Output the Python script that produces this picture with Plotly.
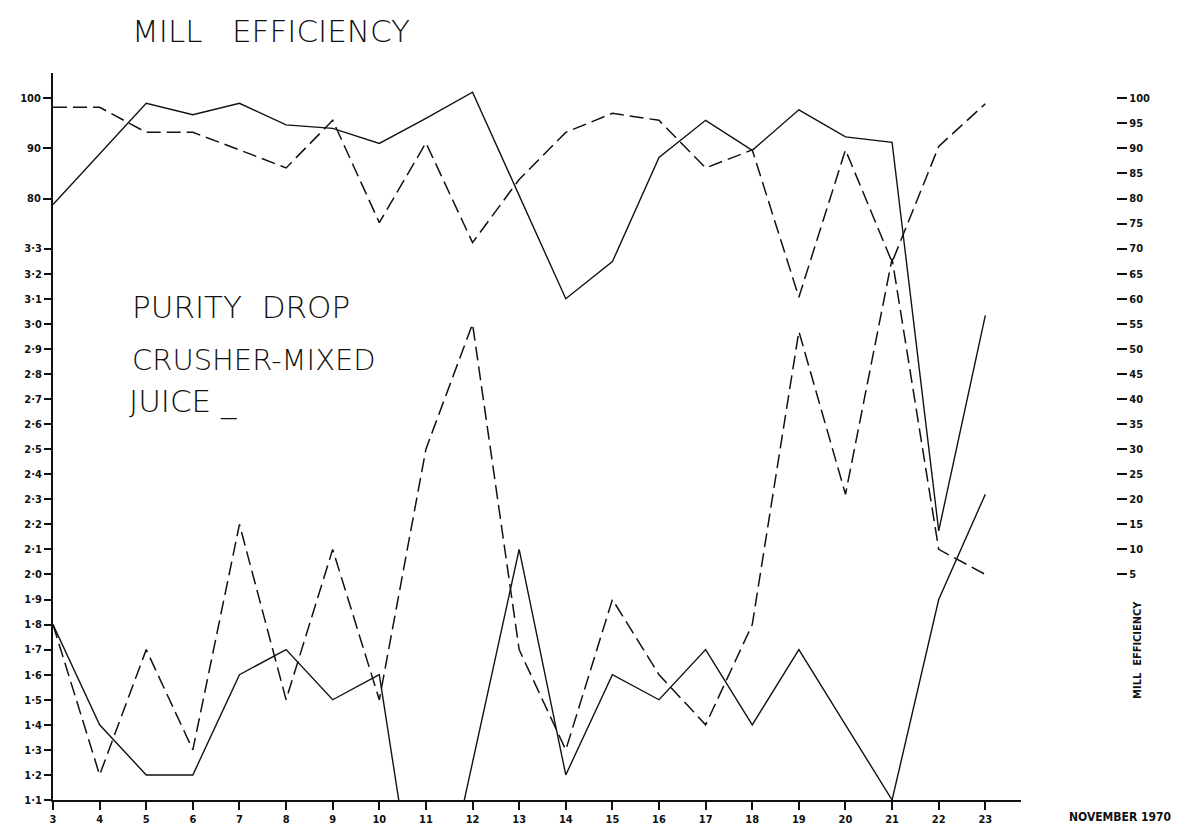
import plotly.graph_objects as go

# ---------------- data ----------------
days = [3, 4, 5, 6, 7, 8, 9, 10, 11, 12, 13, 14, 15, 16, 17, 18, 19, 20, 21, 22, 23]

# mill efficiency (upper scale, %)
mill_eff_solid = [78.8, 89.0, 99.0, 96.7, 99.0, 94.7, 94.0, 91.0, 96.0, 101.2, 80.5,
                  60.0, 67.4, 88.2, 95.6, 89.6, 97.7, 92.3, 91.2, 13.7, 56.7]
mill_eff_dashed = [98.2, 98.2, 93.2, 93.2, 89.7, 86.1, 95.6, 75.2, 91.1, 71.2, 83.8,
                   93.2, 97.0, 95.6, 86.1, 89.7, 60.3, 89.7, 67.3, 90.4, 98.9]

# purity drop crusher - mixed juice (lower scale)
purity_solid = [1.8, 1.4, 1.2, 1.2, 1.6, 1.7, 1.5, 1.6, 0.4, 1.25, 2.1,
                1.2, 1.6, 1.5, 1.7, 1.4, 1.7, 1.4, 1.1, 1.9, 2.32]
purity_dashed = [1.8, 1.2, 1.7, 1.3, 2.2, 1.5, 2.1, 1.5, 2.5, 3.0, 1.7,
                 1.3, 1.9, 1.6, 1.4, 1.8, 2.97, 2.32, 3.26, 2.1, 2.0]

x_tick_labels = ["3", "4", "5", "6", "7", "8", "9", "10", "11", "12", "13", "14",
                 "15", "16", "17", "18", "19", "20", "21", "22", "23"]
left_eff_ticks = [80, 90, 100]
left_eff_labels = ["80", "90", "100"]
left_purity_ticks = [1.1, 1.2, 1.3, 1.4, 1.5, 1.6, 1.7, 1.8, 1.9, 2.0, 2.1, 2.2,
                     2.3, 2.4, 2.5, 2.6, 2.7, 2.8, 2.9, 3.0, 3.1, 3.2, 3.3]
left_purity_labels = ["1\u00b71", "1\u00b72", "1\u00b73", "1\u00b74", "1\u00b75", "1\u00b76",
                      "1\u00b77", "1\u00b78", "1\u00b79", "2\u00b70", "2\u00b71", "2\u00b72",
                      "2\u00b73", "2\u00b74", "2\u00b75", "2\u00b76", "2\u00b77", "2\u00b78",
                      "2\u00b79", "3\u00b70", "3\u00b71", "3\u00b72", "3\u00b73"]
right_eff_ticks = [5, 10, 15, 20, 25, 30, 35, 40, 45, 50, 55, 60, 65, 70, 75, 80, 85, 90, 95, 100]
right_eff_labels = ["5", "10", "15", "20", "25", "30", "35", "40", "45", "50", "55",
                    "60", "65", "70", "75", "80", "85", "90", "95", "100"]

# ---------------- geometry ----------------
W, H = 1180, 830
ML, MR, MT, MB = 43, 20, 65, 34
PW, PH = W - ML - MR, H - MT - MB
X_END_PX = 1013           # right end of x-axis line
PX_PER_DAY = 46.7
PX_PER_EFF = 5.04         # px per efficiency unit
PX_PER_PUR = 252.0        # px per purity unit
RIGHT_AXIS_PX = 1108

x_range = [3, 3 + (X_END_PX - ML) / PX_PER_DAY]
eff_range = [-40, -40 + PH / PX_PER_EFF]
pur_range = [1.1, 1.1 + PH / PX_PER_PUR]


def xp(px):
    return (px - ML) / PW


def yp(py):
    return (H - MB - py) / PH


INK = "#111111"
TICKFONT = dict(family="DejaVu Sans Condensed, DejaVu Sans", size=11, color=INK, weight="bold")
BIG = dict(family="DejaVu Sans", size=31, color=INK, weight=300)
MID = dict(family="DejaVu Sans", size=29, color=INK, weight=300)

fig = go.Figure()

line_solid = dict(color=INK, width=1.4)
line_dash = dict(color=INK, width=1.5, dash="14px,6px")

fig.add_trace(go.Scatter(x=days, y=mill_eff_solid, mode="lines", line=line_solid,
                         yaxis="y", showlegend=False, name="Mill efficiency (solid)"))
fig.add_trace(go.Scatter(x=days, y=mill_eff_dashed, mode="lines", line=line_dash,
                         yaxis="y", showlegend=False, name="Mill efficiency (dashed)"))
fig.add_trace(go.Scatter(x=days, y=purity_solid, mode="lines", line=line_solid,
                         yaxis="y3", showlegend=False, name="Purity drop (solid)"))
fig.add_trace(go.Scatter(x=days, y=purity_dashed, mode="lines", line=line_dash,
                         yaxis="y3", showlegend=False, name="Purity drop (dashed)"))
# invisible carrier for the detached right-hand efficiency scale
fig.add_trace(go.Scatter(x=[days[0]], y=[right_eff_ticks[-1]], mode="markers",
                         marker=dict(opacity=0), yaxis="y2", showlegend=False,
                         hoverinfo="skip"))

fig.update_layout(
    width=W, height=H,
    margin=dict(l=ML, r=MR, t=MT, b=MB, pad=0),
    paper_bgcolor="white", plot_bgcolor="white",
    showlegend=False,
    xaxis=dict(domain=[0, (X_END_PX - ML) / PW], range=x_range,
               tickmode="array", tickvals=days, ticktext=x_tick_labels,
               ticks="outside", ticklen=8, tickwidth=1.5, tickcolor=INK,
               showline=True, linewidth=2, linecolor=INK,
               showgrid=False, zeroline=False, tickfont=TICKFONT),
    yaxis=dict(range=eff_range, tickmode="array", tickvals=left_eff_ticks,
               ticktext=left_eff_labels, ticks="outside", ticklen=8, tickwidth=1.5,
               tickcolor=INK, showline=True, linewidth=2, linecolor=INK,
               showgrid=False, zeroline=False, tickfont=TICKFONT),
    yaxis3=dict(range=pur_range, overlaying="y", side="left", anchor="x",
                tickmode="array", tickvals=left_purity_ticks, ticktext=left_purity_labels,
                ticks="outside", ticklen=8, tickwidth=1.5, tickcolor=INK,
                showline=False, showgrid=False, zeroline=False, tickfont=TICKFONT),
    yaxis2=dict(range=eff_range, overlaying="y", side="right", anchor="free",
                position=xp(RIGHT_AXIS_PX), tickmode="array", tickvals=right_eff_ticks,
                ticktext=right_eff_labels, ticks="outside", ticklen=10, tickwidth=2,
                tickcolor=INK, showline=False, showgrid=False, zeroline=False,
                tickfont=TICKFONT),
)

annos = [
    dict(text="MILL\u00a0\u00a0\u00a0EFFICIENCY", x=xp(120), y=yp(23), xanchor="left",
         yanchor="middle", font=BIG),
    dict(text="PURITY\u00a0\u00a0DROP", x=xp(120), y=yp(300), xanchor="left",
         yanchor="middle", font=BIG),
    dict(text="CRUSHER-MIXED", x=xp(120), y=yp(354), xanchor="left",
         yanchor="middle", font=MID),
    dict(text="JUICE _", x=xp(117), y=yp(395), xanchor="left",
         yanchor="middle", font=BIG),
    dict(text="NOVEMBER 1970", x=xp(1112), y=yp(813), xanchor="center",
         yanchor="middle", font=dict(TICKFONT, size=12)),
    dict(text="MILL\u00a0\u00a0EFFICIENCY", x=xp(1130), y=yp(645), xanchor="center",
         yanchor="middle", textangle=-90, font=TICKFONT),
]
for a in annos:
    a.update(xref="paper", yref="paper", showarrow=False)
fig.update_layout(annotations=annos)

fig.write_html("out.html")
